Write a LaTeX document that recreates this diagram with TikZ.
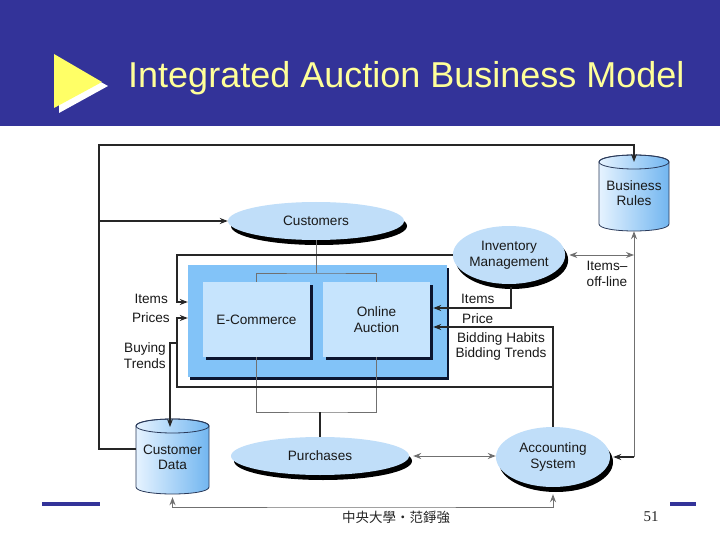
\documentclass[tikz,border=0pt]{standalone}
\usepackage{fontspec}
\setmainfont{Liberation Sans}
\newfontfamily\cjkfont{Noto Sans CJK TC}
\newfontfamily\numfont{Liberation Serif}
\usetikzlibrary{arrows.meta,shapes.geometric,shadows,calc}
\definecolor{hdr}{HTML}{333399}
\definecolor{ttl}{HTML}{FFFF99}
\definecolor{tri}{HTML}{FFFF66}
\definecolor{ellfill}{HTML}{C0DEF9}
\definecolor{boxfill}{HTML}{C6E4FD}
\definecolor{bigblue}{HTML}{82C3F8}
\definecolor{shd}{HTML}{0B1530}
\definecolor{cylL}{HTML}{E6F3FF}
\definecolor{cylR}{HTML}{72B6F0}
\definecolor{cyld}{HTML}{2A3A5A}
\definecolor{gln}{HTML}{707070}
\begin{document}
\begin{tikzpicture}[x=1pt,y=-1pt, >={Stealth[length=8pt,width=6pt]},
  lbl/.style={font=\fontsize{13.6}{15.6}\selectfont, text=black!90, inner sep=0pt, align=center},
  ell/.style={ellipse, lbl, fill=ellfill, drop shadow={shadow xshift=3pt, shadow yshift=-5pt, fill=black, opacity=1}},
  fbox/.style={rectangle, lbl, fill=boxfill, minimum width=107pt, minimum height=75pt, drop shadow={shadow xshift=3pt, shadow yshift=-3pt, fill=shd, opacity=1}},
  ln/.style={draw=black!85, line width=1.1pt},
  gry/.style={draw=gln, line width=1pt},
  cyl/.style={left color=cylL, right color=cylR, draw=cyld, line width=0.8pt}]
\useasboundingbox (0,0) rectangle (720,540);
\fill[white] (0,0) rectangle (720,540);
% header
\fill[hdr] (0,0) rectangle (720,126);
\fill[white] (59,59) -- (59,113) -- (108,86) -- cycle;
\fill[tri] (54,54) -- (54,108) -- (102,82) -- cycle;
\node[anchor=base west, inner sep=0pt, text=ttl, font=\fontsize{36}{40}\selectfont] (title) at (128,88) {Integrated Auction Business Model};
% footer
\fill[hdr] (42,502) rectangle (100,506);
\fill[hdr] (670,502) rectangle (696,506);
\node[font=\cjkfont\fontsize{13.5}{15}\selectfont, text=black!85, inner sep=0pt] (foot) at (396,517) {中央大學・范錚強};
\node[font=\numfont\fontsize{15}{16}\selectfont, text=black!85, inner sep=0pt] (pg) at (651,517) {51};
% big blue box and modules
\node[rectangle, fill=bigblue, minimum width=259pt, minimum height=112pt, inner sep=0pt,
  drop shadow={shadow xshift=2pt, shadow yshift=-3pt, fill=shd, opacity=1}] (blue) at (317.5,321) {};
\node[fbox] (ecom) at (256.5,319.5) {E-Commerce};
\node[fbox] (oauc) at (376.5,319.5) {Online\\Auction};
% ellipses
\node[ell, minimum width=176pt, minimum height=38pt] (cust) at (316,221) {Customers};
\node[ell, minimum width=112pt, minimum height=58pt] (inv) at (509,255) {Inventory\\Management};
\node[ell, minimum width=178pt, minimum height=38pt] (purch) at (320,456) {Purchases};
\node[ell, minimum width=114pt, minimum height=60pt] (acct) at (553,457) {Accounting\\System};
% cylinders
\path[cyl] (599,162) -- (599,224) .. controls (599,233.33) and (669,233.33) .. (669,224) -- (669,162) .. controls (669,152.67) and (599,152.67) .. cycle;
\draw[cyld, line width=0.8pt] (634,162) ellipse [x radius=35, y radius=7];
\node[lbl, minimum width=70pt, minimum height=76pt] (bru) at (634,193) {Business\\Rules};
\path[cyl] (136,426) -- (136,487) .. controls (136,496.33) and (209,496.33) .. (209,487) -- (209,426) .. controls (209,416.67) and (136,416.67) .. cycle;
\draw[cyld, line width=0.8pt] (172.5,426) ellipse [x radius=36.5, y radius=7];
\node[lbl, minimum width=73pt, minimum height=75pt] (cd) at (172.5,457.5) {Customer\\Data};
% outer loop
\coordinate (tl) at (99,145);
\coordinate (brtop) at (634,162);
\coordinate (cdjoin) at (136,449);
\coordinate (lb) at (99,221);
\draw[ln,->] (cdjoin) -| (tl) -| (brtop);
\draw[ln,->] (lb) -- (cust.west);
% brackets
\coordinate (brT) at (316,273);
\draw[gry] (cust.south) -- (brT);
\draw[gry] (ecom.north) |- (brT) -| (oauc.north);
\coordinate (brB) at (320,412);
\draw[gry] (ecom.south) |- (brB) -| (oauc.south);
\draw[ln] (brB) -- (purch.north);
% frame
\coordinate (fl1) at (177,302);
\draw[ln,->] (inv.west) -| (fl1) -- (fl1 -| blue.west);
\coordinate (fb) at (553,387);
\coordinate (fl2) at (177,318);
\draw[ln,->] (fb) -| (fl2) -- (fl2 -| blue.west);
\coordinate (bt) at (177,343);
\coordinate (cdtop) at (170,427);
\draw[ln,->] (bt) -| (cdtop);
% right inputs
\draw[ln,->] (acct.north) |- ([xshift=3pt,yshift=-7.5pt]oauc.east);
\draw[ln,->] ([xshift=2pt,yshift=-3pt]inv.south) |- ([xshift=3pt,yshift=11.5pt]oauc.east);
\coordinate (rv) at (bru.south |- acct.east);
\draw[gry,->] (rv) -- (bru.south);
\draw[ln,->] (rv) -- ([xshift=3pt]acct.east);
\draw[gry,<->] ([xshift=4pt]inv.east) -- (inv.east -| bru.south);
\draw[gry,<->] ([xshift=4pt]purch.east) -- (purch.east -| acct.west);
\coordinate (bot) at (360,507);
\draw[gry,<->] ([yshift=-2pt]cd.south) |- (bot) -| ([yshift=-7pt]acct.south);
% labels
\node[lbl, anchor=east] (lit) at (168,299) {Items};
\node[lbl, anchor=east] (lpr) at (170,318) {Prices};
\node[lbl, anchor=east, align=right] (lbt) at (166,355.5) {Buying\\Trends};
\node[lbl, anchor=west] (rit) at (461,299) {Items};
\node[lbl, anchor=west] (rpr) at (462,319) {Price};
\node[lbl] (rbh) at (501,346.5) {Bidding Habits\\Bidding Trends};
\node[lbl] (ioff) at (607,274) {Items--\\off-line};
\end{tikzpicture}
\end{document}
